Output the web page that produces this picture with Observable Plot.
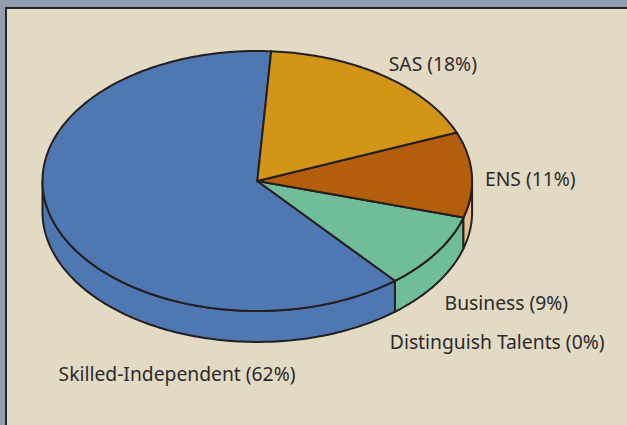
<!DOCTYPE html>
<html><head><meta charset="utf-8">
<script src="https://cdn.jsdelivr.net/npm/d3@7"></script>
<script src="https://cdn.jsdelivr.net/npm/@observablehq/plot@0.6"></script>
<style>
html,body{margin:0;padding:0;width:627px;height:425px;overflow:hidden;background:#919fae}
#frame{position:absolute;left:5px;top:7px;width:620px;height:416px;border-left:2px solid #26262b;border-top:2px solid #26262b;background:#e2dac3}
svg{display:block}
</style></head><body><div id="frame"></div>
<script>
// Slices in counter-clockwise order, starting at the top of the pie
const categories = ["Skilled-Independent", "Distinguish Talents", "Business", "ENS", "SAS"];
const labels = ["Skilled-Independent (62%)", "Distinguish Talents (0%)", "Business (9%)", "ENS (11%)", "SAS (18%)"];
const shares = [62.1, 0, 9.4, 10.6, 17.9];
const topColors = ["#4f78b2", "#70bd9a", "#70bd9a", "#b25e0c", "#d29517"];
const wallColors = ["#4f78b2", "#70bd9a", "#70bd9a", "#e8bd90", "#d29517"];

const startAngle = 86.3, depth = 0.238, ink = "#231f20";
const labelX = [-0.925, 0.617, 0.872, 1.06, 0.612];
const labelY = [-1.49, -1.245, -0.945, 0.01, 0.895];

const rad = d => d * Math.PI / 180;
let a = startAngle;
const slices = categories.map((name, i) => {
  const from = a, to = a + shares[i] * 3.6; a = to;
  return {name, from, to, top: topColors[i], wall: wallColors[i], label: labels[i], lx: labelX[i], ly: labelY[i]};
}).filter(s => s.to > s.from);

const arc = (from, to) => {
  const n = Math.max(2, Math.ceil(to - from));
  return d3.range(n + 1).map(k => from + (to - from) * k / n);
};
const topRows = slices.flatMap(s => [
  {name: s.name, x: 0, y: 0, c: s.top},
  ...arc(s.from, s.to).map(t => ({name: s.name, x: Math.cos(rad(t)), y: Math.sin(rad(t)), c: s.top}))
]);
// the visible rim is the front half of the ellipse (180°–360°)
const wallRows = slices.flatMap(s => {
  const from = Math.max(s.from, 180), to = Math.min(s.to, 360);
  if (to <= from) return [];
  const ts = arc(from, to);
  return [
    ...ts.map(t => ({name: s.name, x: Math.cos(rad(t)), y: Math.sin(rad(t)), c: s.wall})),
    ...ts.slice().reverse().map(t => ({name: s.name, x: Math.cos(rad(t)), y: Math.sin(rad(t)) - depth, c: s.wall}))
  ];
});

const poly = rows => Plot.line(rows, {
  x: "x", y: "y", z: "name", fill: "c", stroke: ink, strokeWidth: 2,
  curve: "linear-closed", strokeLinejoin: "round"
});

const chart = Plot.plot({
  width: 620, height: 416, margin: 0,
  style: {background: "transparent", overflow: "visible"},
  x: {type: "linear", domain: [-1, 1], range: [35, 464.6], axis: null},
  y: {type: "linear", domain: [-1, 1], range: [301.5, 41.5], axis: null},
  marks: [
    poly(wallRows),
    poly(topRows),
    Plot.text(slices.concat([{label: labels[1], lx: labelX[1], ly: labelY[1]}]), {
      x: "lx", y: "ly", text: "label", textAnchor: "start",
      fontFamily: "'Noto Sans'", fontSize: 19.3, fill: "#2b2a2c"
    })
  ]
});
document.getElementById("frame").appendChild(chart);
</script></body></html>
